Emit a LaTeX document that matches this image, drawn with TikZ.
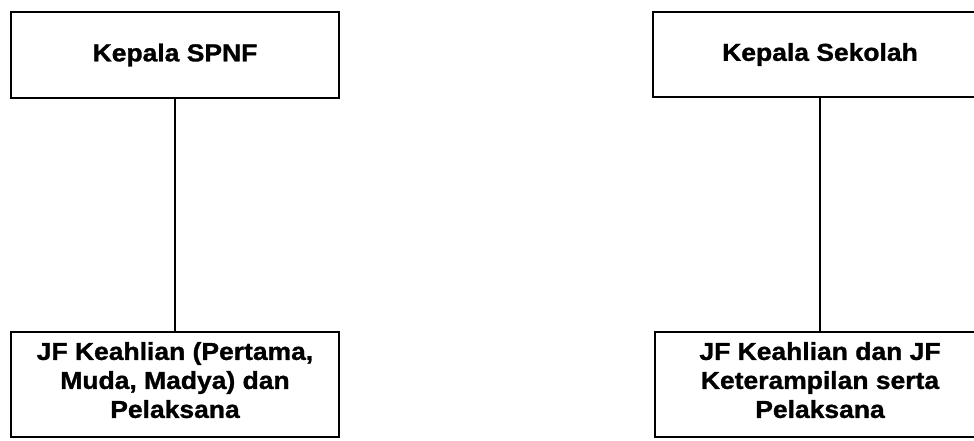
\documentclass[tikz,border=0pt]{standalone}
\usepackage{fontspec}
\newfontfamily\boxfont{Liberation Sans}[FakeStretch=1.08,FakeBold=1.2]
\begin{document}
\begin{tikzpicture}[x=1pt,y=-1pt,
  orgbox/.style={draw=black, line width=2.4pt, rectangle, align=center, inner sep=0pt,
    font=\boxfont\bfseries\fontsize{24.5}{29}\selectfont},
  link/.style={draw=black, line width=2.4pt}]
\clip (0,0) rectangle (974,440);
\fill[white] (0,0) rectangle (974,440);
\node[orgbox, minimum width=328pt, minimum height=86pt] (ktop) at (175,55) {Kepala SPNF};
\node[orgbox, minimum width=328pt, minimum height=105pt] (kbot) at (175,384.5)
  {JF Keahlian (Pertama,\\ Muda, Madya) dan\\ Pelaksana\rule[-9pt]{0pt}{0pt}};
\node[orgbox, minimum width=334pt, minimum height=85pt] (rtop) at (820,54.5) {Kepala Sekolah};
\node[orgbox, minimum width=330pt, minimum height=105pt] (rbot) at (820,384.5)
  {JF Keahlian dan JF\\ Keterampilan serta\\ Pelaksana\rule[-9pt]{0pt}{0pt}};
\draw[link] (ktop.south) -- (kbot.north);
\draw[link] (rtop.south) -- (rbot.north);
\end{tikzpicture}
\end{document}
